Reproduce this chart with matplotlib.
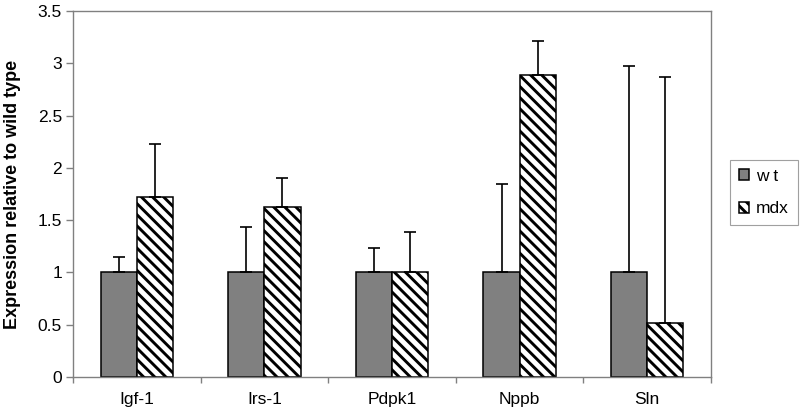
import numpy as np
import matplotlib.pyplot as plt
from matplotlib.ticker import MultipleLocator

# values
genes = ["Igf-1", "Irs-1", "Pdpk1", "Nppb", "Sln"]
wt_vals = [1.0, 1.0, 1.0, 1.0, 1.0]
wt_err_top = [1.15, 1.43, 1.23, 1.85, 2.97]
mdx_vals = [1.72, 1.63, 1.0, 2.89, 0.52]
mdx_err_top = [2.23, 1.90, 1.39, 3.21, 2.87]

plt.rcParams['font.family'] = ['Liberation Sans', 'DejaVu Sans']
plt.rcParams['hatch.linewidth'] = 2.1

fig = plt.figure(figsize=(8, 4.16), dpi=100)
ax = fig.add_axes([73 / 800, 39 / 416, 638 / 800, 366 / 416])

x = np.arange(len(genes))
w = 0.283

wt = np.array(wt_vals)
mdx = np.array(mdx_vals)
wt_up = np.array(wt_err_top) - wt
mdx_up = np.array(mdx_err_top) - mdx

err_kw = dict(ecolor='black', elinewidth=1.2, capsize=4.5, capthick=1.2)

ax.bar(x - w / 2, wt, w, color='#808080', edgecolor='black', linewidth=1.1,
       yerr=[np.zeros_like(wt), wt_up], error_kw=err_kw, label='w t', zorder=2)
ax.bar(x + w / 2, mdx, w, color='white', edgecolor='black', linewidth=1.1,
       hatch='\\\\\\', yerr=[np.zeros_like(mdx), mdx_up], error_kw=err_kw,
       label='mdx', zorder=2)

ax.set_xlim(-0.5, len(genes) - 0.5)
ax.set_ylim(0, 3.5)

ax.yaxis.set_major_locator(MultipleLocator(0.5))
ax.yaxis.set_major_formatter(plt.FuncFormatter(lambda v, p: f"{v:g}"))
ax.tick_params(axis='y', labelsize=12.5, length=5, width=1, color='#808080', pad=3)

# category labels without ticks, small ticks between groups
ax.set_xticks(x)
ax.set_xticklabels(genes, fontsize=12.5)
ax.tick_params(axis='x', which='major', length=0, pad=11)
ax.set_xticks(np.arange(-0.5, len(genes)), minor=True)
ax.tick_params(axis='x', which='minor', length=4, width=1, color='#808080')

for s in ax.spines.values():
    s.set_color('#808080')
    s.set_linewidth(1)

ax.set_ylabel('Expression relative to wild type', fontsize=13,
              fontweight='bold', labelpad=12)

leg = fig.legend(loc='center left', bbox_to_anchor=(730 / 800, 0.537),
                 fontsize=12.5, fancybox=False, framealpha=1, edgecolor='#a0a0a0',
                 handlelength=0.6, handleheight=0.6, handletextpad=0.4,
                 borderpad=0.5, labelspacing=1.0, borderaxespad=0)
leg.get_frame().set_linewidth(0.8)

fig.savefig('out.png', dpi=100)
